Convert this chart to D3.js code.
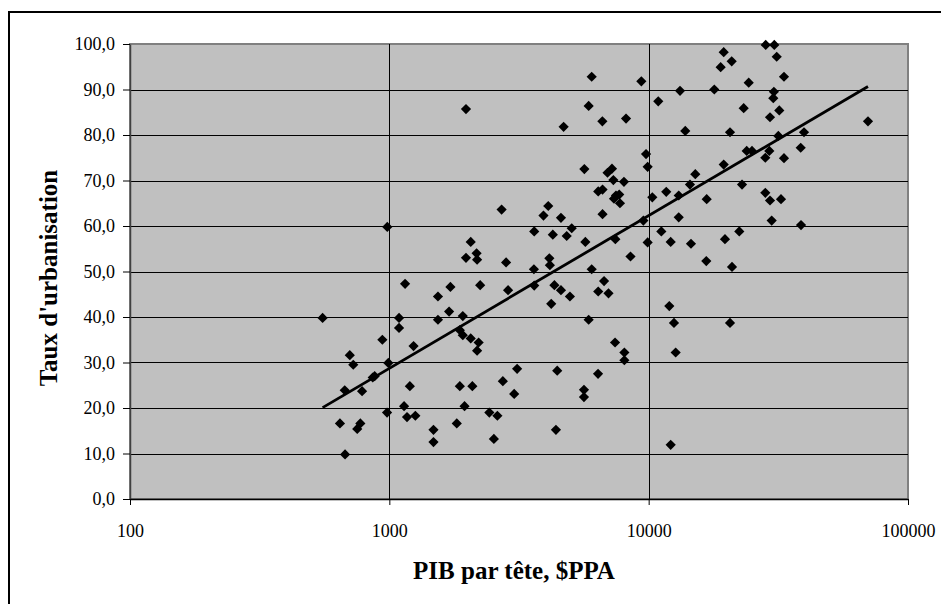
<!DOCTYPE html>
<html>
<head>
<meta charset="utf-8">
<script src="https://cdn.jsdelivr.net/npm/d3@7"></script>
<style>
  body { margin: 0; background: #fff; }
  svg { display: block; }
</style>
</head>
<body>
<script>
var width = 941;
var height = 604;

// PIB par tête ($PPA) and taux d'urbanisation (%)
var pib = [6030,1975,5870,6630,4700,5650,6940,6390,6640,2710,4100,3930,4590,6640,982,3620,4270,5050,4830,5700,2060,2170,1975,2180,2820,4140,4160,3610,6030,
  6730,6390,7000,1150,1720,2240,1540,2870,3620,4330,4590,4970,4210,1700,553,1090,1090,1540,1920,1870,1920,2060,2210,2180,5870,940,1240,704,726,991,3110,4440,6380,863,878,673,785,1200,1870,2090,2740,3030,5630,5630,1140,1950,980,645,773,752,1170,1260,2430,2610,1820,1480,1480,2530,4390,675,
  28270,30510,31170,19470,20900,18950,33250,9370,24310,13210,17910,10890,30400,30240,23250,31890,29370,8180,70100,13840,20590,31620,39720,38570,23880,25030,29190,28170,33250,9770,9910,19470,15130,7220,7310,8030,7480,7700,7750,7350,14430,22910,11690,10330,13060,16740,28170,29370,32380,13060,29810,38680,9540,7440,9910,11190,12160,14560,19690,22360,8510,16680,20960,12010,12520,20590,7420,8060,8060,12710,12160];

var urb = [92.8,85.7,86.4,83.0,81.8,72.5,71.7,67.6,68.0,63.6,64.4,62.3,61.8,62.6,59.8,58.8,58.1,59.5,57.8,56.5,56.5,54.0,53.0,52.6,52.0,52.9,51.4,50.5,50.5,
  47.9,45.6,45.2,47.3,46.6,47.0,44.5,45.9,46.9,47.0,45.9,44.5,42.9,41.2,39.8,39.8,37.6,39.4,40.2,37.1,36.0,35.3,34.4,32.6,39.4,35.0,33.6,31.6,29.5,29.9,28.6,28.2,27.5,26.7,27.0,23.9,23.7,24.8,24.8,24.8,25.9,23.1,24.0,22.4,20.4,20.4,19.0,16.6,16.6,15.4,18.0,18.3,19.0,18.3,16.6,15.2,12.5,13.2,15.2,9.8,
  99.8,99.8,97.2,98.2,96.2,94.9,92.8,91.8,91.5,89.7,90.0,87.4,89.5,88.1,85.9,85.4,83.9,83.6,83.0,80.9,80.6,79.8,80.6,77.2,76.5,76.5,76.5,75.0,74.9,75.8,73.0,73.5,71.4,72.6,70.1,69.7,66.7,66.9,65.0,66.0,69.1,69.1,67.5,66.3,66.7,65.9,67.3,65.6,65.9,61.9,61.2,60.2,61.2,57.1,56.4,58.8,56.5,56.1,57.1,58.8,53.3,52.3,51.0,42.4,38.7,38.7,34.4,32.2,30.5,32.2,11.9];

// logarithmic trend: urb = a + b * log10(pib)
var trendA = -72.0;
var trendB = 33.57;

var xTicks = [100, 1000, 10000, 100000];
var yTicks = [0, 10, 20, 30, 40, 50, 60, 70, 80, 90, 100];

var xTitle = "PIB par tête, $PPA";
var yTitle = "Taux d'urbanisation";

var plot = { left: 130, right: 908, top: 44, bottom: 499 };
var font = "'Liberation Serif', 'Times New Roman', serif";

var svg = d3.select("body").append("svg")
    .attr("width", width)
    .attr("height", height);

// outer frame of the chart
svg.append("rect")
    .attr("x", 9).attr("y", 12)
    .attr("width", 940).attr("height", 600)
    .attr("fill", "#fff")
    .attr("stroke", "#000")
    .attr("stroke-width", 2);

var x = d3.scaleLog()
    .domain([100, 100000])
    .range([plot.left, plot.right]);

var y = d3.scaleLinear()
    .domain([0, 100])
    .range([plot.bottom, plot.top]);

svg.append("rect")
    .attr("x", plot.left).attr("y", plot.top)
    .attr("width", plot.right - plot.left)
    .attr("height", plot.bottom - plot.top)
    .attr("fill", "#c0c0c0")
    .attr("stroke", "#808080")
    .attr("stroke-width", 2);

// grid
svg.append("g").selectAll("line")
    .data(yTicks.filter(function(d) { return d > 0 && d < 100; }))
  .enter().append("line")
    .attr("x1", plot.left).attr("x2", plot.right)
    .attr("y1", function(d) { return Math.round(y(d)) + 0.5; })
    .attr("y2", function(d) { return Math.round(y(d)) + 0.5; })
    .attr("stroke", "#000");

svg.append("g").selectAll("line")
    .data(xTicks.slice(1, -1))
  .enter().append("line")
    .attr("x1", function(d) { return Math.round(x(d)) + 0.5; })
    .attr("x2", function(d) { return Math.round(x(d)) + 0.5; })
    .attr("y1", plot.top).attr("y2", plot.bottom)
    .attr("stroke", "#000");

// axes
var yAxis = d3.axisLeft(y)
    .tickValues(yTicks)
    .tickSize(7)
    .tickSizeOuter(0)
    .tickPadding(8)
    .tickFormat(function(d) { return d.toFixed(1).replace(".", ","); });

var xAxis = d3.axisBottom(x)
    .tickValues(xTicks)
    .tickSize(6)
    .tickSizeOuter(0)
    .tickPadding(19)
    .tickFormat(d3.format("d"));

var gy = svg.append("g")
    .attr("transform", "translate(" + plot.left + ",0)")
    .call(yAxis);

var gx = svg.append("g")
    .attr("transform", "translate(0," + plot.bottom + ")")
    .call(xAxis);

gy.select(".domain").attr("stroke", "#404040").attr("stroke-width", 1.5);
gx.select(".domain").attr("stroke", "#000").attr("stroke-width", 1.5);

[gx, gy].forEach(function(g) {
  g.selectAll(".tick line").attr("stroke", "#000");
  g.selectAll("text")
    .attr("fill", "#000")
    .style("font-family", font)
    .style("font-size", "18px");
});

// trend line
var trendX = d3.extent(pib);
var line = d3.line()
    .x(function(d) { return x(d); })
    .y(function(d) { return y(trendA + trendB * Math.log10(d)); });

svg.append("path")
    .datum(trendX)
    .attr("d", line)
    .attr("fill", "none")
    .attr("stroke", "#000")
    .attr("stroke-width", 2.8);

// points
var diamond = d3.symbol().type(d3.symbolSquare).size(52);

svg.append("g").selectAll("path")
    .data(pib)
  .enter().append("path")
    .attr("d", diamond)
    .attr("transform", function(d, i) {
      return "translate(" + x(d) + "," + y(urb[i]) + ") rotate(45)";
    })
    .attr("fill", "#000");

// titles
svg.append("text")
    .attr("x", 514)
    .attr("y", 579)
    .attr("text-anchor", "middle")
    .style("font-family", font)
    .style("font-size", "25px")
    .style("font-weight", "bold")
    .text(xTitle);

svg.append("text")
    .attr("transform", "translate(57,278) rotate(-90)")
    .attr("text-anchor", "middle")
    .style("font-family", font)
    .style("font-size", "25px")
    .style("font-weight", "bold")
    .text(yTitle);
</script>
</body>
</html>
